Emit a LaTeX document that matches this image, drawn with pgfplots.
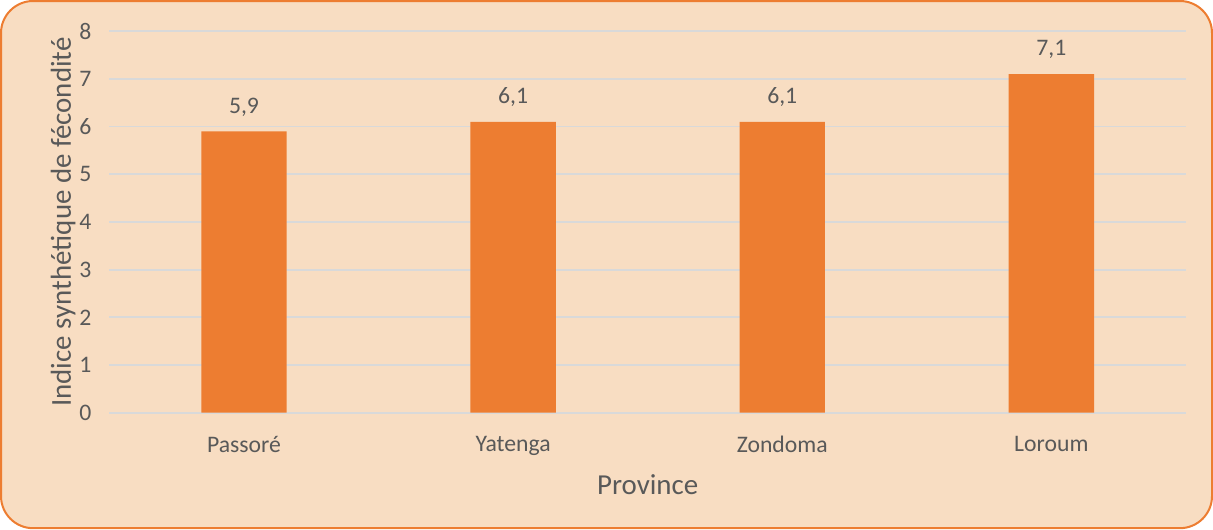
\documentclass[border=0pt]{standalone}
\usepackage{fontspec}
\setmainfont{Carlito}
\usepackage{pgfplots}
\pgfplotsset{compat=1.18}
\definecolor{barorange}{HTML}{ED7D31}
\definecolor{bgpeach}{HTML}{F8DDC2}
\definecolor{gridgray}{HTML}{D9D9D9}
\definecolor{textgray}{HTML}{595959}
\begin{document}
\begin{tikzpicture}
% chart area background
\fill[bgpeach, draw=barorange, line width=1pt, rounded corners=16pt]
  (-54pt,-57.5pt) rectangle (549pt,205pt);
\begin{axis}[
    at={(0,0)}, anchor=south west,
    scale only axis, width=536pt, height=190pt,
    ybar, bar width=42.5pt,
    xmin=-0.5, xmax=3.5, ymin=0, ymax=8,
    xtick=data, xticklabels={Passoré,Yatenga,Zondoma,Loroum},
    ytick={0,1,...,8},
    axis line style={draw=none},
    major tick length=0pt,
    ymajorgrids, grid style={gridgray, line width=0.9pt},
    tick label style={font=\fontsize{11.8}{14}\selectfont, text=textgray},
    xticklabel style={yshift=-8pt},
    yticklabel style={xshift=-5.5pt},
    yticklabel={\pgfmathprintnumber[fixed,precision=0]{\tick}},
    /pgf/number format/assume math mode=true,
    xlabel={Province}, ylabel={Indice synthétique de fécondité},
    label style={font=\fontsize{14.4}{16}\selectfont, text=textgray},
    xlabel style={at={(axis description cs:0.5,-0.1895)}, anchor=center},
    ylabel style={at={(axis description cs:-0.043,0.5)}, anchor=center},
    nodes near coords={\pgfmathprintnumber[fixed,fixed zerofill,precision=1,use comma]{\pgfplotspointmeta}},
    every node near coord/.append style={font=\fontsize{11.8}{14}\selectfont, text=textgray, yshift=4pt},
]
\addplot[fill=barorange, draw=none] coordinates {(0,5.9) (1,6.1) (2,6.1) (3,7.1)};
\end{axis}
\end{tikzpicture}
\end{document}
